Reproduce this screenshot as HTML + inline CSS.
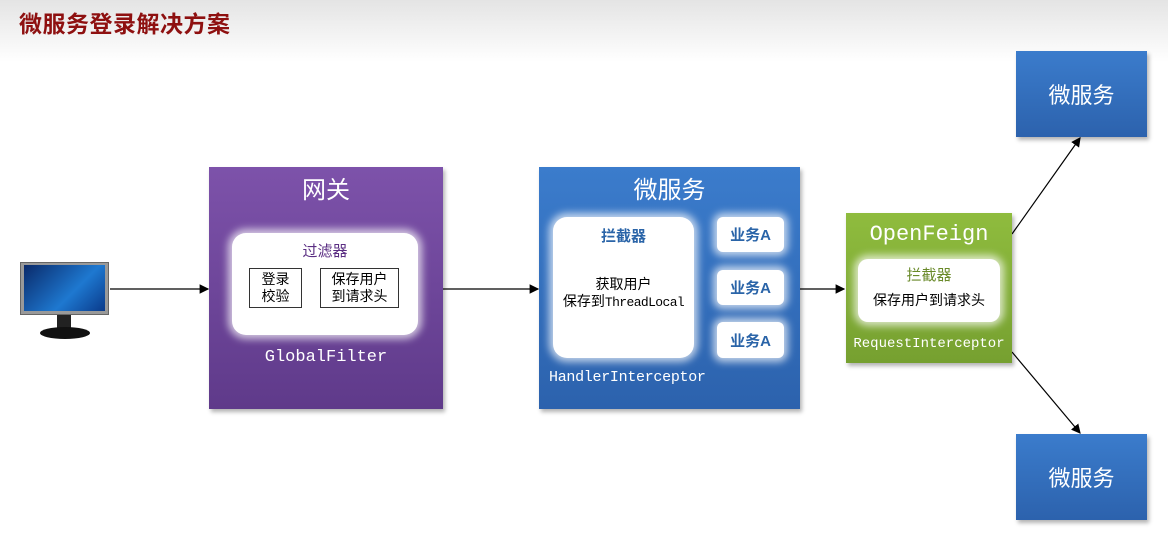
<!DOCTYPE html>
<html><head><meta charset="utf-8"><style>
body{margin:0;width:1168px;height:544px;position:relative;background:#fff;overflow:hidden;font-family:"Liberation Sans","Noto Sans CJK SC",sans-serif}
.a{position:absolute;box-sizing:border-box}
.c{display:flex;align-items:center;justify-content:center;text-align:center}
.mono{font-family:"Liberation Mono","DejaVu Sans Mono",monospace}
.wh{background:#fff;border-radius:14px;box-shadow:0 0 8px 4px rgba(255,255,255,.7)}
.blue{background:linear-gradient(#3b7ccc,#2c62ad);box-shadow:2px 3px 4px rgba(0,0,0,.3)}
</style></head><body>
<div class="a" style="left:0;top:0;width:1168px;height:62px;background:linear-gradient(#e4e4e4,#fff)"></div>
<div class="a" style="left:19px;top:5px;font-size:23px;font-weight:bold;color:#8e1010;letter-spacing:0.5px">微服务登录解决方案</div>

<!-- monitor -->
<div class="a" style="left:20px;top:262px;width:89px;height:53px;background:#999;border:1px solid #666"></div>
<div class="a" style="left:24px;top:265px;width:81px;height:46px;background:linear-gradient(135deg,#0a2a6a,#1e78d0 60%,#0a3a8a)"></div>
<div class="a" style="left:57px;top:315px;width:14px;height:14px;background:#222"></div>
<div class="a" style="left:40px;top:327px;width:50px;height:12px;background:#111;border-radius:50%"></div>

<svg class="a" style="left:0;top:0" width="1168" height="544">
<defs><marker id="m" markerWidth="8" markerHeight="8" refX="7" refY="4" orient="auto"><path d="M0,0L8,4L0,8z" fill="#000"/></marker></defs>
<g stroke="#000" stroke-width="1.2" marker-end="url(#m)">
<line x1="110" y1="289" x2="208" y2="289"/>
<line x1="443" y1="289" x2="538" y2="289"/>
<line x1="800" y1="289" x2="844" y2="289"/>
<line x1="1012" y1="234" x2="1080" y2="138"/>
<line x1="1012" y1="352" x2="1080" y2="433"/>
</g></svg>

<!-- gateway -->
<div class="a" style="left:209px;top:167px;width:234px;height:242px;background:linear-gradient(#7d52aa,#5f3a8a);box-shadow:2px 3px 4px rgba(0,0,0,.3)"></div>
<div class="a c" style="left:209px;top:172px;width:234px;height:30px;color:#fff;font-size:24px">网关</div>
<div class="a wh" style="left:232px;top:233px;width:186px;height:102px"></div>
<div class="a c" style="left:232px;top:240px;width:186px;height:20px;color:#5a2d82;font-size:15px">过滤器</div>
<div class="a c" style="left:249px;top:268px;width:53px;height:40px;border:1px solid #333;font-size:14px;line-height:17px">登录<br>校验</div>
<div class="a c" style="left:320px;top:268px;width:79px;height:40px;border:1px solid #333;font-size:14px;line-height:17px">保存用户<br>到请求头</div>
<div class="a c mono" style="left:209px;top:346px;width:234px;height:22px;color:#fff;font-size:17px">GlobalFilter</div>

<!-- microservice -->
<div class="a blue" style="left:539px;top:167px;width:261px;height:242px"></div>
<div class="a c" style="left:539px;top:172px;width:261px;height:30px;color:#fff;font-size:24px">微服务</div>
<div class="a wh" style="left:553px;top:217px;width:141px;height:141px"></div>
<div class="a c" style="left:553px;top:225px;width:141px;height:20px;color:#2a64a8;font-size:15px;font-weight:bold">拦截器</div>
<div class="a" style="left:548px;top:276px;width:151px;text-align:center;white-space:nowrap;font-size:14px;line-height:17px">获取用户<br>保存到<span class="mono" style="font-size:13px;letter-spacing:-0.6px">ThreadLocal</span></div>
<div class="a wh c" style="left:717px;top:217px;width:67px;height:35px;border-radius:6px;color:#2a64a8;font-size:15px;font-weight:bold">业务A</div>
<div class="a wh c" style="left:717px;top:270px;width:67px;height:35px;border-radius:6px;color:#2a64a8;font-size:15px;font-weight:bold">业务A</div>
<div class="a wh c" style="left:717px;top:322px;width:67px;height:36px;border-radius:6px;color:#2a64a8;font-size:15px;font-weight:bold">业务A</div>
<div class="a mono" style="left:549px;top:369px;color:#fff;font-size:15px;letter-spacing:-0.3px">HandlerInterceptor</div>

<!-- openfeign -->
<div class="a" style="left:846px;top:213px;width:166px;height:150px;background:linear-gradient(#8fbc3e,#76a030);box-shadow:2px 3px 4px rgba(0,0,0,.3)"></div>
<div class="a c mono" style="left:846px;top:220px;width:166px;height:28px;color:#fff;font-size:22px">OpenFeign</div>
<div class="a wh" style="left:858px;top:259px;width:142px;height:63px;border-radius:10px"></div>
<div class="a c" style="left:858px;top:264px;width:142px;height:20px;color:#6a8a2a;font-size:15px">拦截器</div>
<div class="a c" style="left:858px;top:290px;width:142px;height:20px;font-size:14px">保存用户到请求头</div>
<div class="a c mono" style="left:846px;top:334px;width:166px;height:20px;color:#fff;font-size:14px">RequestInterceptor</div>

<div class="a blue c" style="left:1016px;top:51px;width:131px;height:86px;color:#fff;font-size:22px">微服务</div>
<div class="a blue c" style="left:1016px;top:434px;width:131px;height:86px;color:#fff;font-size:22px">微服务</div>
</body></html>
